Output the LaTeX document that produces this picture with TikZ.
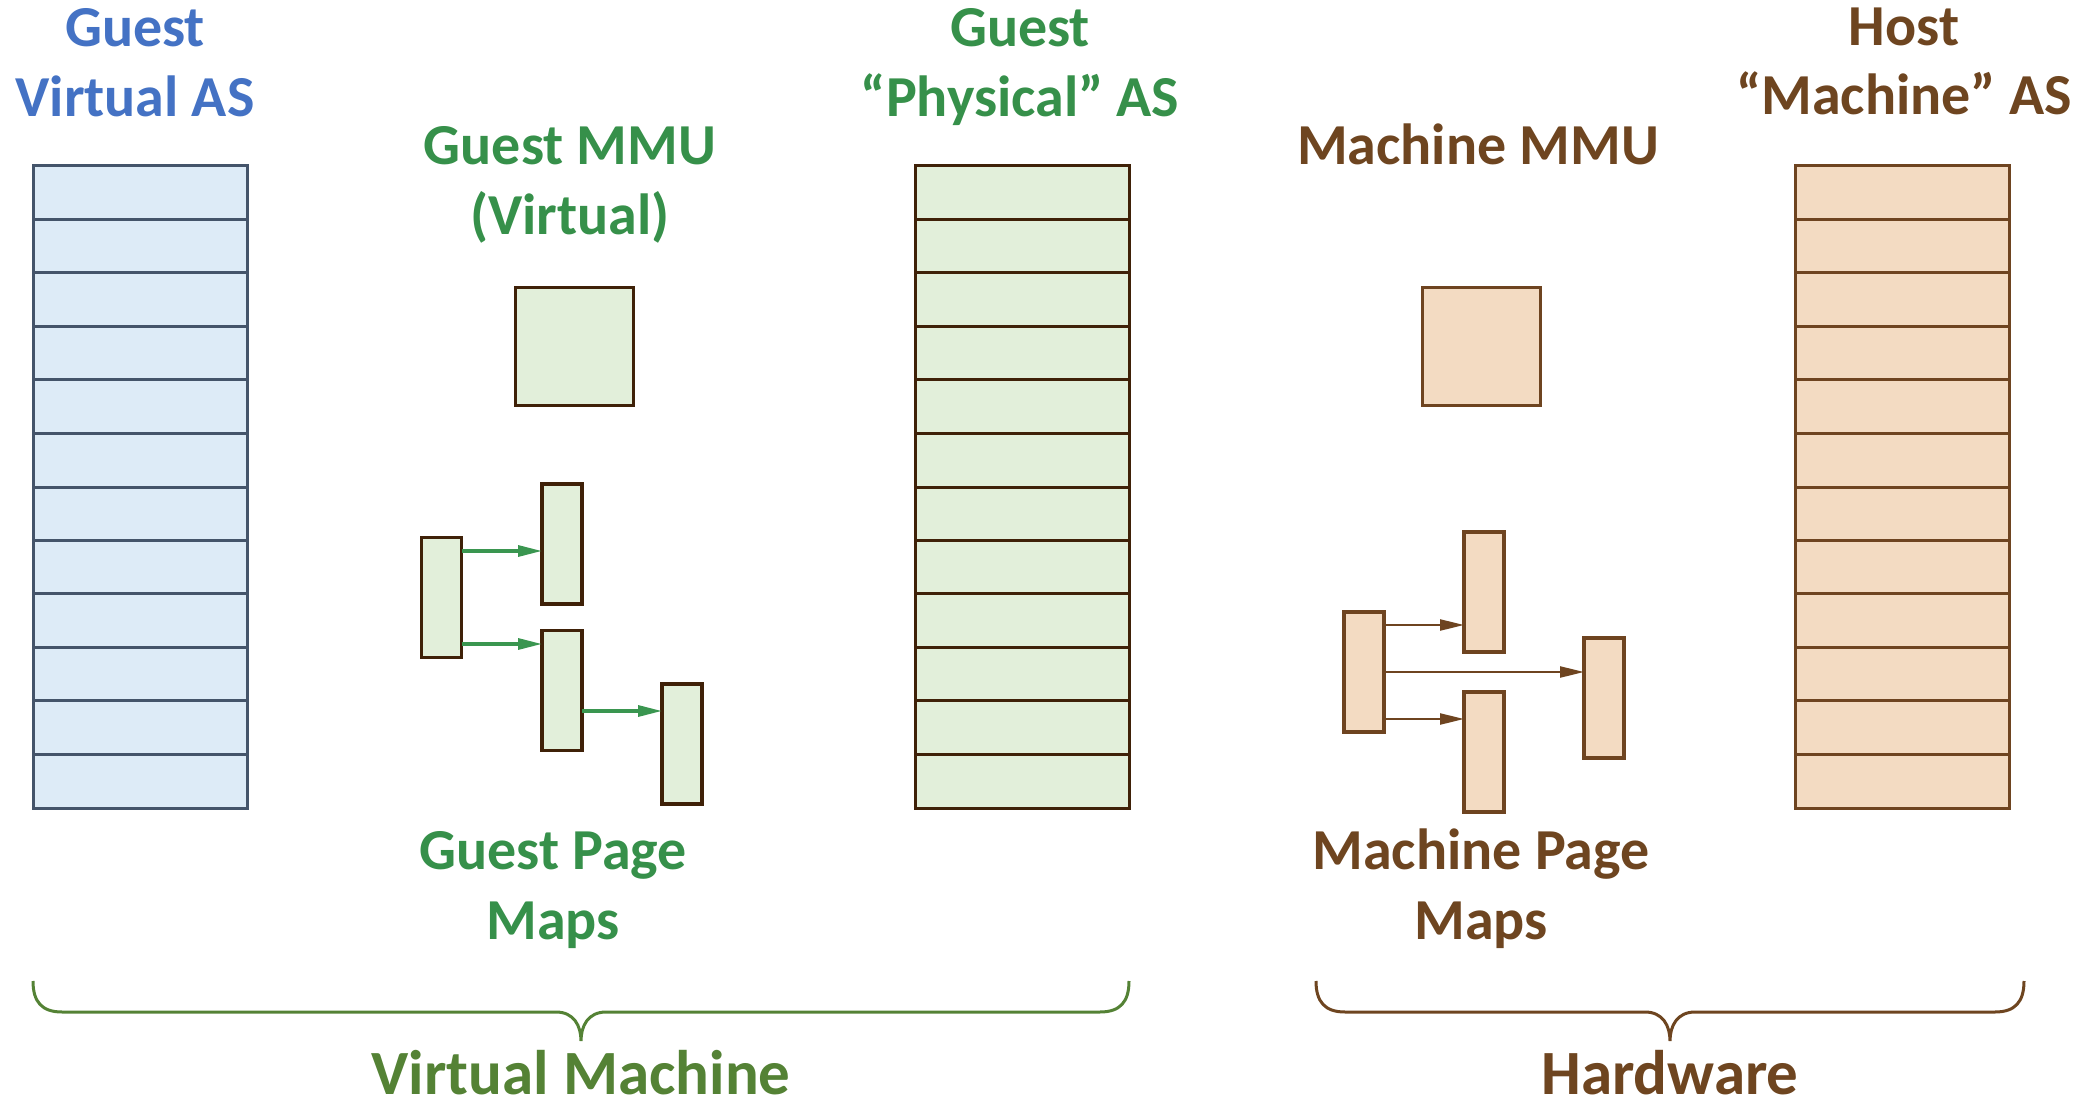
\documentclass[tikz,border=0pt]{standalone}
\usepackage{fontspec}
\setmainfont{Carlito}
\usetikzlibrary{arrows.meta,calc}
\definecolor{tblue}{HTML}{4472C4}
\definecolor{tgreen}{HTML}{36904A}
\definecolor{tolive}{HTML}{548235}
\definecolor{tbrown}{HTML}{6E4520}
\definecolor{fblue}{HTML}{DDEBF7}
\definecolor{bblue}{HTML}{44546A}
\definecolor{fgreen}{HTML}{E2EFDA}
\definecolor{bdark}{HTML}{3F2108}
\definecolor{fpeach}{HTML}{F3DBC2}
\definecolor{bbrown}{HTML}{6E4420}
\definecolor{agreen}{HTML}{3A9650}
\tikzset{
  lbl/.style={font=\bfseries\fontsize{29pt}{35pt}\selectfont, anchor=base, inner sep=0pt},
  biglbl/.style={font=\bfseries\fontsize{31.5pt}{38pt}\selectfont, anchor=base, inner sep=0pt},
  colbox/.style={inner sep=0pt, outer sep=0pt, minimum width=107pt, minimum height=321pt, line width=1.5pt},
  pbox/.style={inner sep=0pt, outer sep=0pt, minimum width=20pt, minimum height=60pt, line width=1.6pt},
  mmubox/.style={inner sep=0pt, outer sep=0pt, minimum width=59pt, minimum height=59pt, line width=1.6pt},
  garr/.style={draw=agreen, line width=1.6pt, -{Triangle[length=12pt,width=5.5pt]}},
  barr/.style={draw=bbrown, line width=1.2pt, -{Triangle[length=12pt,width=5.5pt]}},
  brace/.style={line width=1.5pt}
}
\begin{document}
\begin{tikzpicture}[x=0.5pt,y=-0.5pt]
\useasboundingbox (0,0) rectangle (2088,1101);
% columns
\node[colbox, draw=bblue, fill=fblue] (vas) at (140.5,487) {};
\node[colbox, draw=bdark, fill=fgreen] (pas) at (1022,487) {};
\node[colbox, draw=bbrown, fill=fpeach] (mas) at (1902,487) {};
\foreach \i in {1,...,11}{
  \draw[bblue, line width=1.5pt] ($(vas.north west)!\i/12!(vas.south west)$) -- ($(vas.north east)!\i/12!(vas.south east)$);
  \draw[bdark, line width=1.5pt] ($(pas.north west)!\i/12!(pas.south west)$) -- ($(pas.north east)!\i/12!(pas.south east)$);
  \draw[bbrown, line width=1.5pt] ($(mas.north west)!\i/12!(mas.south west)$) -- ($(mas.north east)!\i/12!(mas.south east)$);
}
% MMUs
\node[mmubox, draw=bdark, fill=fgreen] (gmmu) at (574.5,346.5) {};
\node[mmubox, draw=bbrown, fill=fpeach] (mmmu) at (1481.5,346.5) {};
% guest page maps
\node[pbox, draw=bdark, fill=fgreen] (ga) at (441.5,597.5) {};
\node[pbox, draw=bdark, fill=fgreen] (gb) at (562,544) {};
\node[pbox, draw=bdark, fill=fgreen] (gc) at (562,690.5) {};
\node[pbox, draw=bdark, fill=fgreen] (gd) at (682,744) {};
\coordinate (y1) at (0,551);
\coordinate (y2) at (0,644);
\coordinate (y3) at (0,711);
\draw[garr] (ga.east |- y1) -- (gb.west |- y1);
\draw[garr] (ga.east |- y2) -- (gc.west |- y2);
\draw[garr] (gc.east |- y3) -- (gd.west |- y3);
% machine page maps
\node[pbox, draw=bbrown, fill=fpeach] (me) at (1364,672) {};
\node[pbox, draw=bbrown, fill=fpeach] (mf) at (1484,592) {};
\node[pbox, draw=bbrown, fill=fpeach] (mg) at (1484,752) {};
\node[pbox, draw=bbrown, fill=fpeach] (mh) at (1604,698) {};
\coordinate (z1) at (0,625);
\coordinate (z2) at (0,672);
\coordinate (z3) at (0,719);
\draw[barr] (me.east |- z1) -- (mf.west |- z1);
\draw[barr] (me.east |- z2) -- (mh.west |- z2);
\draw[barr] (me.east |- z3) -- (mg.west |- z3);
% labels
\node[lbl, text=tblue] (l1a) at (135,47) {Guest};
\node[lbl, text=tblue] (l1b) at (135,117) {Virtual AS};
\node[lbl, text=tgreen] (l2a) at (1020,47) {Guest};
\node[lbl, text=tgreen] (l2b) at (1020,117) {“Physical” AS};
\node[lbl, text=tbrown] (l3a) at (1904,46) {Host};
\node[lbl, text=tbrown] (l3b) at (1904,115) {“Machine” AS};
\node[lbl, text=tgreen] (l4a) at (570,165) {Guest MMU};
\node[lbl, text=tgreen] (l4b) at (570,235) {(Virtual)};
\node[lbl, text=tbrown] (l5a) at (1478,165) {Machine MMU};
\node[lbl, text=tgreen] (l6a) at (553,869) {Guest Page};
\node[lbl, text=tgreen] (l6b) at (553,939) {Maps};
\node[lbl, text=tbrown] (l7a) at (1481,869) {Machine Page};
\node[lbl, text=tbrown] (l7b) at (1481,939) {Maps};
% braces
\draw[brace, tolive] (33,981) .. controls (33,1002) and (42,1012) .. (62,1012) -- (556,1012) .. controls (574,1012) and (581,1026) .. (581,1041) .. controls (581,1026) and (588,1012) .. (606,1012) -- (1100,1012) .. controls (1120,1012) and (1129,1002) .. (1129,981);
\draw[brace, tbrown] (1316,981) .. controls (1316,1002) and (1325,1012) .. (1345,1012) -- (1645,1012) .. controls (1663,1012) and (1670,1026) .. (1670,1041) .. controls (1670,1026) and (1677,1012) .. (1695,1012) -- (1995,1012) .. controls (2015,1012) and (2024,1002) .. (2024,981);
\node[biglbl, text=tolive] (vm) at (581,1094) {Virtual Machine};
\node[biglbl, text=tbrown] (hw) at (1670,1094) {Hardware};
\end{tikzpicture}
\end{document}
